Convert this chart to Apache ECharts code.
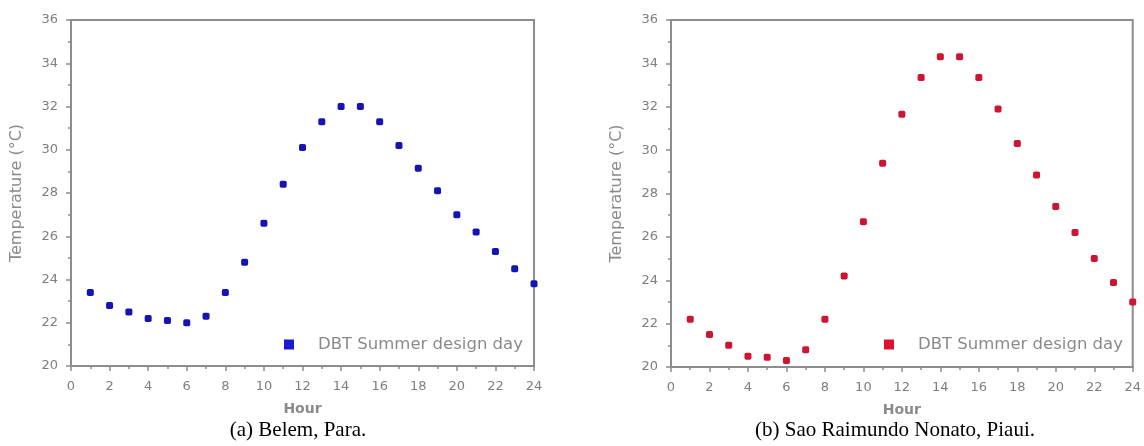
<!DOCTYPE html>
<html>
<head>
<meta charset="utf-8">
<script src="https://cdn.jsdelivr.net/npm/echarts@6/dist/echarts.min.js"></script>
<style>
html,body{margin:0;padding:0;background:#fff;}
#chart{width:1144px;height:446px;}
</style>
</head>
<body>
<div id="chart"></div>
<script>
var hours = [1,2,3,4,5,6,7,8,9,10,11,12,13,14,15,16,17,18,19,20,21,22,23,24];
var belemTemp = [23.4,22.8,22.5,22.2,22.1,22.0,22.3,23.4,24.8,26.6,28.4,30.1,31.3,32.0,32.0,31.3,30.2,29.15,28.1,27.0,26.2,25.3,24.5,23.8];
var saoRaimundoTemp = [22.2,21.5,21.0,20.5,20.45,20.3,20.8,22.2,24.2,26.7,29.4,31.65,33.35,34.3,34.3,33.35,31.9,30.3,28.85,27.4,26.2,25.0,23.9,23.0];
var legendLabel = 'DBT Summer design day';
var seriesNames = ['Belem', 'Sao Raimundo'];
var captions = ['(a) Belem, Para.', '(b) Sao Raimundo Nonato, Piaui.'];
var xAxisName = 'Hour';
var yAxisName = 'Temperature (\u00B0C)';

var chart = echarts.init(document.getElementById('chart'), null, {renderer:'canvas'});

var gridBoxes = [
  {left:71, top:20, width:463, height:346},
  {left:671, top:20, width:462, height:347}
];
var colors = ['#1414b4', '#cc1530'];
var legendColors = ['#1a1ad0', '#dd1030'];
var legendPos = [{left:284, top:336}, {left:884, top:336}];
var captionCenters = [293, 890];

function mkX(i){
  return {
    type:'value', gridIndex:i, min:0, max:24, interval:2,
    name:xAxisName, nameLocation:'middle', nameGap:36,
    nameTextStyle:{color:'#8a8a8a', fontSize:14, fontWeight:'bold', fontFamily:'DejaVu Sans'},
    axisLine:{show:true, onZero:false, lineStyle:{color:'#8c8c8c', width:2}},
    axisTick:{show:true, length:5, lineStyle:{color:'#8c8c8c', width:1.5}},
    minorTick:{show:true, splitNumber:2, length:3, lineStyle:{color:'#8c8c8c', width:1.5}},
    splitLine:{show:false},
    axisLabel:{color:'#7e7e7e', fontSize:13, fontFamily:'DejaVu Sans', margin:14}
  };
}
function mkY(i){
  return {
    type:'value', gridIndex:i, min:20, max:36, interval:2,
    name:yAxisName, nameLocation:'middle', nameGap:46, nameRotate:90,
    nameTextStyle:{color:'#8a8a8a', fontSize:16, fontFamily:'DejaVu Sans'},
    axisLine:{show:true, onZero:false, lineStyle:{color:'#8c8c8c', width:2}},
    axisTick:{show:true, length:5, lineStyle:{color:'#8c8c8c', width:1.5}},
    minorTick:{show:true, splitNumber:2, length:3, lineStyle:{color:'#8c8c8c', width:1.5}},
    splitLine:{show:false},
    axisLabel:{color:'#7e7e7e', fontSize:13, fontFamily:'DejaVu Sans', margin:13}
  };
}
var datasets = [belemTemp, saoRaimundoTemp];

var option = {
  backgroundColor:'#ffffff',
  animation:false,
  grid: gridBoxes.map(function(g){
    return {left:g.left, top:g.top, width:g.width, height:g.height, show:true,
      borderColor:'#8c8c8c', borderWidth:2, backgroundColor:'#ffffff', containLabel:false};
  }),
  xAxis:[mkX(0), mkX(1)],
  yAxis:[mkY(0), mkY(1)],
  legend: [0,1].map(function(i){
    return {
      data:[{name:seriesNames[i], icon:'rect', itemStyle:{color:legendColors[i]}}],
      left:legendPos[i].left, top:legendPos[i].top, padding:0,
      itemWidth:10, itemHeight:10, itemGap:0,
      formatter:function(){ return legendLabel; },
      textStyle:{color:'#8a8a8a', fontSize:16.5, fontFamily:'DejaVu Sans', padding:[0,0,0,19]},
      selectedMode:false
    };
  }),
  title: [0,1].map(function(i){
    return {
      text:captions[i], left:captionCenters[i], top:415, textAlign:'center',
      textStyle:{color:'#000', fontSize:21, fontWeight:'normal', fontFamily:'Liberation Serif'}
    };
  }),
  series: [0,1].map(function(i){
    return {
      name:seriesNames[i], type:'scatter', xAxisIndex:i, yAxisIndex:i,
      symbol:'roundRect', symbolSize:7,
      itemStyle:{color:colors[i], opacity:1},
      data: hours.map(function(h, k){ return [h, datasets[i][k]]; }),
      clip:false
    };
  })
};
chart.setOption(option);
</script>
</body>
</html>
